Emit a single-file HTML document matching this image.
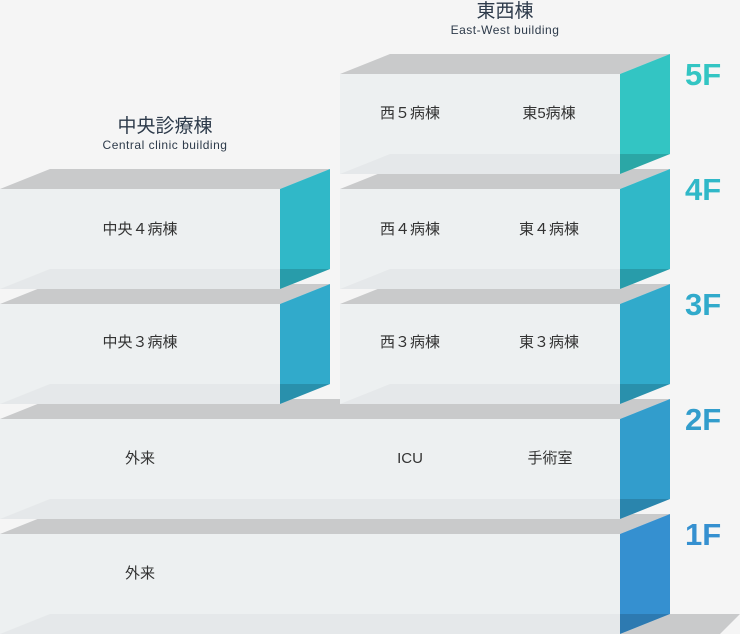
<!DOCTYPE html>
<html><head><meta charset="utf-8"><style>
body{margin:0;background:#f5f5f5;}
svg{display:block;font-family:"Liberation Sans","Noto Sans CJK JP",sans-serif;}
.t{font-size:15px;fill:#333;text-anchor:middle;}
.f{font-size:31px;font-weight:bold;}
</style></head><body>
<svg width="740" height="634" viewBox="0 0 740 634" xmlns="http://www.w3.org/2000/svg">
<rect width="740" height="634" fill="#f5f5f5"/>
<!-- 1F -->
<polygon points="670,614 740,614 720,634 620,634" fill="#c9cacb"/>
<g id="b1">
<polygon points="0,534 50,514 670,514 620,534" fill="#c9cacb"/>
<rect x="0" y="534" width="620" height="100" fill="#edf0f1"/>
<polygon points="0,634 50,614 670,614 620,634" fill="#e5e8ea"/>
<polygon points="620,534 670,514 670,614 620,634" fill="#3590d0"/>
<polygon points="620,614 670,614 620,634" fill="rgba(0,0,0,0.15)"/>
</g>
<!-- 2F -->
<polygon points="0,419 50,399 670,399 620,419" fill="#c9cacb"/>
<rect x="0" y="419" width="620" height="100" fill="#edf0f1"/>
<polygon points="0,519 50,499 670,499 620,519" fill="#e5e8ea"/>
<polygon points="620,419 670,399 670,499 620,519" fill="#329dcc"/>
<polygon points="620,499 670,499 620,519" fill="rgba(0,0,0,0.15)"/>
<!-- 3F left -->
<polygon points="0,304 50,284 330,284 280,304" fill="#c9cacb"/>
<rect x="0" y="304" width="280" height="100" fill="#edf0f1"/>
<polygon points="0,404 50,384 330,384 280,404" fill="#e5e8ea"/>
<polygon points="280,304 330,284 330,384 280,404" fill="#31aacb"/>
<polygon points="280,384 330,384 280,404" fill="rgba(0,0,0,0.15)"/>
<!-- 3F east -->
<polygon points="340,304 390,284 670,284 620,304" fill="#c9cacb"/>
<rect x="340" y="304" width="280" height="100" fill="#edf0f1"/>
<polygon points="340,404 390,384 670,384 620,404" fill="#e5e8ea"/>
<polygon points="620,304 670,284 670,384 620,404" fill="#31aacb"/>
<polygon points="620,384 670,384 620,404" fill="rgba(0,0,0,0.15)"/>
<!-- 4F left -->
<polygon points="0,189 50,169 330,169 280,189" fill="#c9cacb"/>
<rect x="0" y="189" width="280" height="100" fill="#edf0f1"/>
<polygon points="0,289 50,269 330,269 280,289" fill="#e5e8ea"/>
<polygon points="280,189 330,169 330,269 280,289" fill="#30b8c8"/>
<polygon points="280,269 330,269 280,289" fill="rgba(0,0,0,0.15)"/>
<!-- 4F east -->
<polygon points="340,189 390,169 670,169 620,189" fill="#c9cacb"/>
<rect x="340" y="189" width="280" height="100" fill="#edf0f1"/>
<polygon points="340,289 390,269 670,269 620,289" fill="#e5e8ea"/>
<polygon points="620,189 670,169 670,269 620,289" fill="#30b8c8"/>
<polygon points="620,269 670,269 620,289" fill="rgba(0,0,0,0.15)"/>
<!-- 5F east -->
<polygon points="340,74 390,54 670,54 620,74" fill="#c9cacb"/>
<rect x="340" y="74" width="280" height="100" fill="#edf0f1"/>
<polygon points="340,174 390,154 670,154 620,174" fill="#e5e8ea"/>
<polygon points="620,74 670,54 670,154 620,174" fill="#33c5c3"/>
<polygon points="620,154 670,154 620,174" fill="rgba(0,0,0,0.15)"/>

<!-- labels -->
<text class="t" x="410" y="118">西５病棟</text>
<text class="t" x="549" y="118">東5病棟</text>
<text class="t" x="140" y="234">中央４病棟</text>
<text class="t" x="410" y="234">西４病棟</text>
<text class="t" x="549" y="234">東４病棟</text>
<text class="t" x="140" y="347">中央３病棟</text>
<text class="t" x="410" y="347">西３病棟</text>
<text class="t" x="549" y="347">東３病棟</text>
<text class="t" x="140" y="463">外来</text>
<text class="t" x="410" y="463">ICU</text>
<text class="t" x="550" y="463">手術室</text>
<text class="t" x="140" y="578">外来</text>

<text x="505" y="17" font-size="19" fill="#2d3a4a" text-anchor="middle">東西棟</text>
<text x="505" y="34" font-size="12" fill="#2d3a4a" text-anchor="middle" letter-spacing="0.5">East-West building</text>
<text x="165" y="132" font-size="19" fill="#2d3a4a" text-anchor="middle">中央診療棟</text>
<text x="165" y="149" font-size="12" fill="#2d3a4a" text-anchor="middle" letter-spacing="0.5">Central clinic building</text>

<text class="f" x="685" y="85" fill="#33c5c3">5F</text>
<text class="f" x="685" y="200" fill="#30b8c8">4F</text>
<text class="f" x="685" y="315" fill="#31aacb">3F</text>
<text class="f" x="685" y="430" fill="#329dcc">2F</text>
<text class="f" x="685" y="545" fill="#3590d0">1F</text>
</svg>
</body></html>
